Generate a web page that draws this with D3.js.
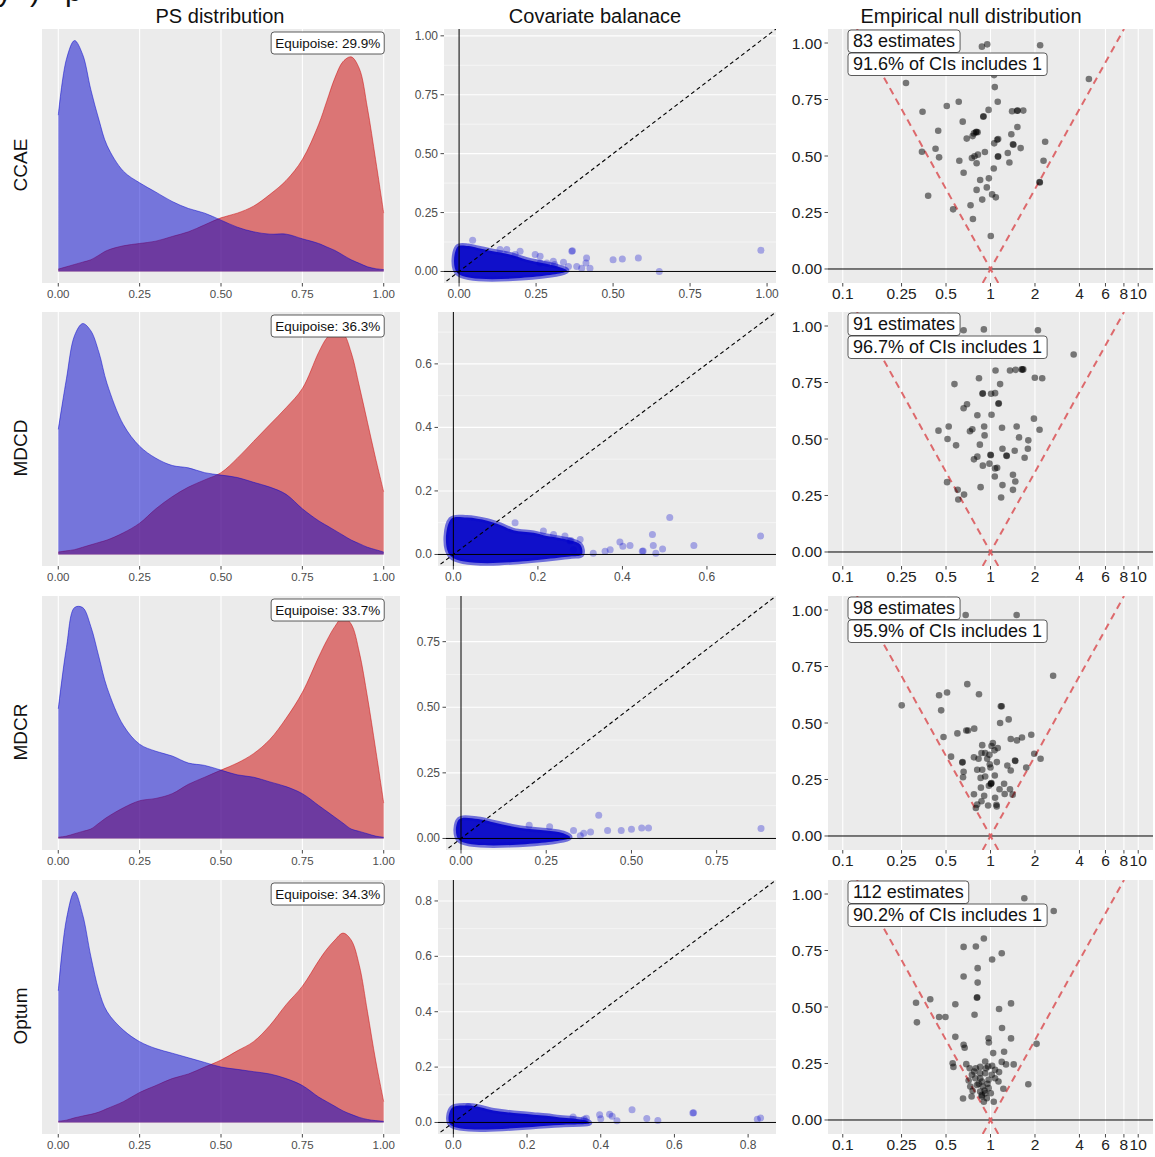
<!DOCTYPE html>
<html><head><meta charset="utf-8">
<script src="https://cdn.jsdelivr.net/npm/d3@7"></script>
<style>body{margin:0;background:#fff;} text{font-family:"Liberation Sans",Arial,sans-serif;}</style>
</head><body><svg id="chart" width="1155" height="1157"></svg>
<script>
// ---------------- DATA ----------------
const rowNames = ["CCAE","MDCD","MDCR","Optum"];
const columnTitles = ["PS distribution","Covariate balanace","Empirical null distribution"];
const equipoisePct = [29.9,36.3,33.7,34.3];
const estimateCounts = [83,91,98,112];
const ciCoveragePct = [91.6,96.7,95.9,90.2];

// preference score grid and (scaled) densities
const psGrid = [0,0.025,0.05,0.075,0.1,0.125,0.15,0.2,0.25,0.3,0.35,0.4,0.45,0.5,0.55,0.6,0.65,0.7,0.75,0.8,0.825,0.85,0.875,0.9,0.925,0.95,0.975,1.0];
const psBlueCCAE = [0.67,0.91,0.99,0.93,0.78,0.65,0.54,0.43,0.38,0.34,0.30,0.27,0.25,0.22,0.19,0.17,0.16,0.16,0.14,0.12,0.105,0.09,0.07,0.05,0.035,0.02,0.012,0.008];
const psRedCCAE  = [0.01,0.02,0.03,0.04,0.05,0.07,0.09,0.11,0.12,0.13,0.15,0.17,0.20,0.23,0.25,0.28,0.33,0.39,0.48,0.63,0.73,0.83,0.90,0.92,0.87,0.70,0.48,0.25];
const psBlueMDCD = [0.52,0.73,0.91,0.96,0.93,0.84,0.71,0.54,0.45,0.40,0.37,0.36,0.34,0.33,0.32,0.30,0.28,0.25,0.19,0.14,0.12,0.10,0.08,0.06,0.045,0.03,0.02,0.01];
const psRedMDCD  = [0.01,0.015,0.02,0.03,0.04,0.05,0.06,0.09,0.13,0.19,0.24,0.28,0.31,0.34,0.40,0.47,0.54,0.61,0.69,0.84,0.90,0.93,0.92,0.84,0.70,0.55,0.40,0.26];
const psBlueMDCR = [0.55,0.81,0.98,0.98,0.90,0.77,0.64,0.48,0.40,0.37,0.35,0.32,0.31,0.29,0.27,0.26,0.24,0.22,0.19,0.14,0.115,0.09,0.065,0.04,0.03,0.02,0.01,0.005];
const psRedMDCR  = [0.005,0.01,0.02,0.03,0.04,0.065,0.09,0.13,0.16,0.17,0.19,0.23,0.26,0.29,0.32,0.36,0.42,0.51,0.62,0.77,0.84,0.90,0.94,0.91,0.79,0.60,0.38,0.15];
const psBlueOptum = [0.57,0.88,1.0,0.90,0.72,0.57,0.48,0.40,0.35,0.32,0.30,0.28,0.26,0.24,0.23,0.22,0.21,0.19,0.16,0.11,0.09,0.07,0.05,0.035,0.022,0.013,0.008,0.005];
const psRedOptum  = [0.005,0.01,0.02,0.028,0.035,0.045,0.06,0.09,0.13,0.16,0.19,0.21,0.24,0.27,0.31,0.35,0.42,0.51,0.59,0.70,0.75,0.79,0.82,0.79,0.68,0.48,0.27,0.09];
const psTicks = [0,0.25,0.5,0.75,1];

// covariate balance: dense core outline [before, after] and individual visible points
const balDenseCCAE = [[-0.005,-0.008],[-0.005,0.105],[0.03,0.108],[0.06,0.1],[0.11,0.086],[0.165,0.072],[0.22,0.05],[0.27,0.036],[0.32,0.021],[0.35,0.004],[0.33,-0.008]];
const balDenseMDCD = [[-0.006,-0.006],[-0.006,0.111],[0.032,0.116],[0.08,0.106],[0.111,0.093],[0.142,0.076],[0.19,0.068],[0.221,0.058],[0.268,0.047],[0.3,0.031],[0.304,0.0],[0.28,-0.006]];
const balDenseMDCR = [[-0.006,-0.006],[-0.006,0.072],[0.05,0.074],[0.1,0.06],[0.15,0.046],[0.2,0.036],[0.25,0.03],[0.3,0.02],[0.32,0.005],[0.3,-0.006]];
const balDenseOptum = [[-0.008,-0.008],[-0.004,0.052],[0.037,0.061],[0.073,0.055],[0.109,0.043],[0.145,0.037],[0.181,0.032],[0.217,0.028],[0.253,0.024],[0.289,0.018],[0.325,0.014],[0.361,0.006],[0.37,-0.002],[0.3,-0.008]];
const balPtsCCAE = [[0.044,0.132],[0.366,0.086],[0.368,0.088],[0.414,0.057],[0.412,0.036],[0.31,0.03],[0.5,0.05],[0.53,0.053],[0.582,0.057],[0.65,0.0],[0.98,0.09],[0.263,0.036],[0.285,0.036],[0.306,0.043],[0.339,0.039],[0.355,0.021],[0.382,0.021],[0.398,0.014],[0.425,0.014],[0.133,0.093],[0.155,0.093],[0.198,0.086],[0.263,0.064],[0.247,0.072],[0.182,0.072]];
const balPtsMDCD = [[0.146,0.1],[0.213,0.074],[0.237,0.063],[0.264,0.058],[0.276,0.042],[0.278,0.044],[0.331,0.004],[0.359,0.01],[0.371,0.015],[0.394,0.039],[0.401,0.026],[0.418,0.028],[0.447,0.01],[0.449,0.011],[0.471,0.063],[0.473,0.028],[0.479,0.004],[0.495,0.017],[0.512,0.116],[0.569,0.028],[0.727,0.058],[0.3,0.047],[0.284,0.015]];
const balPtsMDCR = [[0.33,0.03],[0.36,0.02],[0.38,0.025],[0.404,0.088],[0.43,0.03],[0.47,0.03],[0.5,0.035],[0.53,0.04],[0.55,0.04],[0.88,0.038],[0.26,0.045],[0.2,0.05],[0.35,0.01]];
const balPtsOptum = [[0.041,0.058],[0.397,0.028],[0.40,0.013],[0.424,0.03],[0.431,0.022],[0.444,0.006],[0.485,0.046],[0.525,0.014],[0.555,0.007],[0.65,0.034],[0.652,0.035],[0.825,0.012],[0.834,0.016],[0.361,0.015],[0.355,0.012],[0.325,0.02]];
const balanceTicks = [[0,0.25,0.5,0.75,1],[0,0.2,0.4,0.6],[0,0.25,0.5,0.75],[0,0.2,0.4,0.6,0.8]];

// empirical null: [log10 RR, SE]
const nullCCAE = [[-0.058,0.984],[-0.022,0.994],[0.336,0.99],[-0.572,0.823],[0.666,0.841],[0.024,0.858],[0.029,0.805],[-0.215,0.740],[-0.296,0.721],[0.049,0.740],[-0.46,0.696],[-0.013,0.704],[-0.049,0.674],[-0.047,0.676],[0.146,0.698],[0.184,0.701],[0.222,0.701],[0.18,0.70],[-0.188,0.652],[-0.354,0.612],[0.182,0.628],[-0.099,0.605],[-0.112,0.600],[-0.087,0.605],[-0.095,0.607],[-0.161,0.577],[-0.121,0.588],[0.141,0.596],[0.052,0.575],[0.045,0.572],[0.025,0.556],[0.37,0.563],[0.152,0.552],[0.155,0.55],[0.204,0.535],[-0.464,0.519],[-0.372,0.532],[-0.348,0.494],[-0.038,0.518],[-0.085,0.506],[-0.108,0.499],[-0.126,0.491],[0.052,0.499],[0.05,0.497],[0.117,0.513],[-0.211,0.479],[-0.094,0.468],[0.128,0.471],[0.359,0.479],[-0.182,0.426],[0.022,0.445],[-0.07,0.394],[-0.011,0.401],[0.332,0.385],[0.334,0.383],[-0.025,0.361],[-0.094,0.35],[0.011,0.33],[0.036,0.317],[-0.422,0.324],[-0.056,0.307],[-0.135,0.282],[-0.253,0.264],[-0.119,0.221],[0.002,0.146]];
const nullMDCD = [[-0.182,0.981],[-0.045,0.985],[0.321,0.981],[0.563,0.874],[0.034,0.803],[0.132,0.803],[0.17,0.806],[0.211,0.808],[0.222,0.808],[0.216,0.807],[-0.078,0.769],[0.300,0.771],[0.350,0.769],[-0.244,0.743],[0.065,0.743],[-0.054,0.700],[-0.052,0.702],[0.004,0.700],[0.031,0.703],[0.056,0.658],[0.054,0.656],[-0.159,0.654],[-0.182,0.636],[-0.089,0.605],[0.007,0.607],[0.294,0.590],[-0.352,0.537],[-0.283,0.555],[-0.123,0.543],[-0.139,0.534],[-0.043,0.555],[0.078,0.550],[0.177,0.555],[0.332,0.541],[-0.04,0.516],[-0.291,0.5],[0.193,0.507],[0.256,0.494],[-0.233,0.472],[-0.072,0.475],[0.253,0.457],[0.081,0.457],[0.164,0.448],[0.002,0.428],[0.0,0.43],[0.110,0.425],[0.108,0.427],[-0.089,0.422],[-0.112,0.410],[0.231,0.417],[-0.007,0.391],[-0.052,0.382],[0.031,0.370],[0.045,0.373],[0.152,0.342],[0.029,0.334],[0.168,0.312],[-0.294,0.309],[-0.067,0.287],[0.081,0.296],[0.152,0.275],[-0.222,0.275],[-0.179,0.254],[-0.218,0.232],[0.072,0.241]];
const nullMDCR = [[-0.168,0.978],[0.177,0.978],[0.424,0.709],[-0.157,0.672],[-0.348,0.623],[-0.294,0.635],[-0.078,0.627],[-0.601,0.578],[-0.334,0.556],[0.07,0.574],[0.076,0.574],[0.123,0.516],[0.065,0.5],[-0.318,0.438],[-0.224,0.454],[-0.164,0.467],[-0.152,0.467],[-0.11,0.475],[0.137,0.429],[0.179,0.423],[0.213,0.436],[0.276,0.448],[-0.056,0.402],[0.016,0.411],[0.007,0.398],[0.049,0.389],[0.027,0.379],[-0.061,0.367],[-0.036,0.367],[-0.007,0.359],[0.296,0.364],[0.339,0.342],[-0.267,0.351],[-0.112,0.348],[-0.081,0.342],[-0.022,0.342],[0.043,0.327],[-0.191,0.325],[-0.189,0.327],[0.166,0.334],[0.168,0.332],[0.114,0.312],[-0.09,0.293],[-0.056,0.293],[0.0,0.303],[0.242,0.303],[-0.182,0.284],[-0.186,0.26],[0.137,0.29],[-0.067,0.257],[-0.036,0.263],[0.029,0.268],[0.004,0.232],[0.006,0.234],[0.002,0.23],[0.092,0.231],[-0.065,0.214],[0.061,0.207],[0.132,0.207],[-0.112,0.185],[-0.043,0.178],[0.031,0.169],[0.096,0.186],[0.150,0.183],[-0.061,0.154],[-0.09,0.139],[-0.099,0.124],[-0.016,0.135],[0.04,0.138],[0.042,0.131],[-0.011,0.222],[-0.005,0.317]];
const nullOptum = [[0.229,0.981],[0.428,0.925],[-0.045,0.803],[-0.182,0.766],[-0.099,0.768],[0.076,0.738],[0.011,0.71],[-0.087,0.672],[-0.182,0.635],[-0.087,0.608],[-0.092,0.541],[-0.09,0.543],[-0.504,0.519],[-0.408,0.534],[-0.238,0.512],[0.139,0.516],[0.058,0.491],[-0.348,0.456],[-0.305,0.456],[-0.498,0.432],[-0.108,0.466],[0.078,0.407],[-0.238,0.368],[-0.013,0.362],[-0.011,0.343],[0.139,0.361],[0.312,0.337],[-0.182,0.333],[-0.175,0.32],[0.018,0.296],[0.092,0.302],[-0.256,0.251],[-0.251,0.235],[0.076,0.257],[0.105,0.246],[0.157,0.246],[-0.164,0.247],[-0.141,0.229],[-0.099,0.229],[-0.07,0.235],[-0.036,0.259],[-0.016,0.237],[0.011,0.24],[0.031,0.222],[0.058,0.212],[-0.126,0.2],[-0.07,0.207],[-0.036,0.207],[0.009,0.2],[-0.103,0.185],[-0.148,0.175],[-0.058,0.17],[-0.013,0.178],[0.031,0.185],[-0.137,0.148],[-0.092,0.155],[-0.052,0.148],[-0.013,0.141],[-0.121,0.129],[-0.07,0.126],[-0.036,0.118],[0.002,0.118],[-0.058,0.104],[-0.025,0.096],[-0.045,0.081],[0.022,0.081],[0.087,0.138],[0.256,0.158],[-0.186,0.095],[-0.128,0.104],[0.054,0.17],[-0.11,0.214],[-0.031,0.229],[-0.07,0.185],[-0.06,0.11],[-0.04,0.13],[-0.08,0.16],[-0.02,0.16]];
const nullXTicks = [0.1,0.25,0.5,1,2,4,6,8,10];
const nullXLabels = ["0.1","0.25","0.5","1","2","4","6","8","10"];
const nullYTicks = [0,0.25,0.5,0.75,1];

// ---------------- LAYOUT ----------------
const psBlue = [psBlueCCAE, psBlueMDCD, psBlueMDCR, psBlueOptum];
const psRed = [psRedCCAE, psRedMDCD, psRedMDCR, psRedOptum];
const balDense = [balDenseCCAE, balDenseMDCD, balDenseMDCR, balDenseOptum];
const balPts = [balPtsCCAE, balPtsMDCD, balPtsMDCR, balPtsOptum];
const nullPts = [nullCCAE, nullMDCD, nullMDCR, nullOptum];

const ROW_TOP = [29, 312, 596, 880];
const PH = 254;
const C1 = [42, 400];
const C2R = 776, C2L = [444, 438, 446, 438];
const C3 = [828, 1153];
const BG = "#EBEBEB";
const svg = d3.select("#chart");
const defs = svg.append("defs");
let clipId = 0;
function clip(x0, y0, w, h) {
  const id = "c" + (clipId++);
  defs.append("clipPath").attr("id", id).append("rect").attr("x", x0).attr("y", y0).attr("width", w).attr("height", h);
  return "url(#" + id + ")";
}

// heading fragment cut off at the very top of the figure (as in the reference)
[["y",-3],[")",30],["p",65]].forEach(([t,x]) =>
  svg.append("text").attr("x", x).attr("y", 1).attr("font-size", 30).attr("fill", "#111").text(t));

// column titles
const titleX = [220, 595, 971];
columnTitles.forEach((t, i) => svg.append("text").attr("x", titleX[i]).attr("y", 22.5)
  .attr("text-anchor", "middle").attr("font-size", 20).attr("fill", "#111").text(t));

rowNames.forEach((name, r) => {
  const top = ROW_TOP[r], bot = top + PH;
  svg.append("text").attr("transform", `translate(27,${top + 136}) rotate(-90)`)
    .attr("text-anchor", "middle").attr("font-size", 19).attr("fill", "#111").text(name);

  // ===== Column 1: PS distribution =====
  {
    const g = svg.append("g");
    const x = d3.scaleLinear([-0.05, 1.05], C1);
    const M = d3.max(psBlue[r].concat(psRed[r]));
    const y = d3.scaleLinear([-0.05 * M, 1.05 * M], [bot, top]);
    g.append("rect").attr("x", C1[0]).attr("y", top).attr("width", C1[1] - C1[0]).attr("height", PH).attr("fill", BG);
    psTicks.forEach(t => g.append("line").attr("x1", x(t)).attr("x2", x(t)).attr("y1", top).attr("y2", bot).attr("stroke", "#fff").attr("stroke-width", 1.1));
    const cp = clip(C1[0], top, C1[1] - C1[0], PH);
    const area = d3.area().x((d, i) => x(psGrid[i])).y0(y(0)).y1(d => y(Math.max(0, d))).curve(d3.curveCatmullRom);
    const line = d3.line().x((d, i) => x(psGrid[i])).y(d => y(Math.max(0, d))).curve(d3.curveCatmullRom);
    const pg = g.append("g").attr("clip-path", cp);
    pg.append("path").datum(psRed[r]).attr("d", area).attr("fill", "rgb(204,0,0)").attr("fill-opacity", 0.5);
    pg.append("path").datum(psRed[r]).attr("d", line).attr("fill", "none").attr("stroke", "rgb(204,0,0)").attr("stroke-opacity", 0.6).attr("stroke-width", 0.8);
    pg.append("path").datum(psBlue[r]).attr("d", area).attr("fill", "rgb(0,0,204)").attr("fill-opacity", 0.5);
    pg.append("path").datum(psBlue[r]).attr("d", line).attr("fill", "none").attr("stroke", "rgb(0,0,204)").attr("stroke-opacity", 0.6).attr("stroke-width", 0.8);
    psTicks.forEach(t => {
      g.append("line").attr("x1", x(t)).attr("x2", x(t)).attr("y1", bot).attr("y2", bot + 3.5).attr("stroke", "#333").attr("stroke-width", 0.9);
      g.append("text").attr("x", x(t)).attr("y", bot + 15).attr("text-anchor", "middle").attr("font-size", 11.5).attr("fill", "#4D4D4D").text(d3.format(".2f")(t));
    });
    const lt = g.append("text").attr("x", x(1) - 3.5).attr("y", top + 19).attr("text-anchor", "end").attr("font-size", 13.5).attr("fill", "#111").text("Equipoise: " + equipoisePct[r].toFixed(1) + "%");
    const bb = lt.node().getBBox();
    g.insert("rect", "text:last-child").attr("x", bb.x - 4).attr("y", top + 3).attr("width", bb.width + 8).attr("height", 22).attr("rx", 3).attr("fill", "#fff").attr("stroke", "#333").attr("stroke-width", 0.8);
    lt.raise();
  }

  // ===== Column 2: Covariate balance =====
  {
    const g = svg.append("g");
    const L = C2L[r];
    const allV = balDense[r].flat().concat(balPts[r].flat());
    const m = d3.max(allV);
    const x = d3.scaleLinear([-0.05 * m, 1.05 * m], [L, C2R]);
    const y = d3.scaleLinear([-0.05 * m, 1.05 * m], [bot, top]);
    g.append("rect").attr("x", L).attr("y", top).attr("width", C2R - L).attr("height", PH).attr("fill", BG);
    const ticks = balanceTicks[r];
    const step = ticks[1] - ticks[0];
    const fmt = step === 0.25 ? d3.format(".2f") : d3.format(".1f");
    const minors = ticks.map(t => t + step / 2).concat([-step / 2]).filter(t => y(t) > top && y(t) < bot);
    minors.forEach(t => g.append("line").attr("x1", L).attr("x2", C2R).attr("y1", y(t)).attr("y2", y(t)).attr("stroke", "#fff").attr("stroke-width", 0.5));
    ticks.forEach(t => g.append("line").attr("x1", L).attr("x2", C2R).attr("y1", y(t)).attr("y2", y(t)).attr("stroke", "#fff").attr("stroke-width", 1.1));
    const cp = clip(L, top, C2R - L, PH);
    const pg = g.append("g").attr("clip-path", cp);
    pg.append("path").datum(balDense[r])
      .attr("d", d3.line().x(d => x(d[0])).y(d => y(d[1])).curve(d3.curveCatmullRomClosed))
      .attr("fill", "rgb(6,6,200)").attr("fill-opacity", 0.96)
      .attr("stroke", "rgb(10,10,204)").attr("stroke-opacity", 0.55).attr("stroke-width", 5).attr("stroke-linejoin", "round");
    pg.selectAll("circle.b").data(balPts[r]).join("circle").attr("cx", d => x(d[0])).attr("cy", d => y(d[1])).attr("r", 3.5)
      .attr("fill", "rgb(0,0,204)").attr("fill-opacity", 0.3);
    pg.append("line").attr("x1", x(0)).attr("x2", x(0)).attr("y1", top).attr("y2", bot).attr("stroke", "#000").attr("stroke-width", 1);
    pg.append("line").attr("x1", L).attr("x2", C2R).attr("y1", y(0)).attr("y2", y(0)).attr("stroke", "#000").attr("stroke-width", 1);
    pg.append("line").attr("x1", x(-0.06 * m)).attr("y1", y(-0.06 * m)).attr("x2", x(1.06 * m)).attr("y2", y(1.06 * m))
      .attr("stroke", "#000").attr("stroke-width", 1.1).attr("stroke-dasharray", "4,3");
    ticks.forEach(t => {
      g.append("line").attr("x1", L - 3.5).attr("x2", L).attr("y1", y(t)).attr("y2", y(t)).attr("stroke", "#333").attr("stroke-width", 0.9);
      g.append("text").attr("x", L - 6).attr("y", y(t) + 4).attr("text-anchor", "end").attr("font-size", 12).attr("fill", "#4D4D4D").text(fmt(t));
      g.append("line").attr("x1", x(t)).attr("x2", x(t)).attr("y1", bot).attr("y2", bot + 3.5).attr("stroke", "#333").attr("stroke-width", 0.9);
      g.append("text").attr("x", x(t)).attr("y", bot + 15).attr("text-anchor", "middle").attr("font-size", 12).attr("fill", "#4D4D4D").text(fmt(t));
    });
  }

  // ===== Column 3: Empirical null distribution =====
  {
    const g = svg.append("g");
    const x = d3.scaleLog([Math.pow(10, -1.1), Math.pow(10, 1.1)], C3);
    const y = d3.scaleLinear([-0.062, 1.062], [bot, top]);
    g.append("rect").attr("x", C3[0]).attr("y", top).attr("width", C3[1] - C3[0]).attr("height", PH).attr("fill", BG);
    nullXTicks.forEach(t => g.append("line").attr("x1", x(t)).attr("x2", x(t)).attr("y1", top).attr("y2", bot).attr("stroke", "#fff").attr("stroke-width", 1.1));
    g.append("line").attr("x1", C3[0]).attr("x2", C3[1]).attr("y1", y(0)).attr("y2", y(0)).attr("stroke", "#000").attr("stroke-width", 1);
    const cp = clip(C3[0], top, C3[1] - C3[0], PH);
    const pg = g.append("g").attr("clip-path", cp);
    const seRange = [-0.062, 1.062];
    [-1, 1].forEach(s => {
      pg.append("line").attr("x1", x(Math.exp(s * 1.96 * seRange[0]))).attr("y1", y(seRange[0]))
        .attr("x2", x(Math.exp(s * 1.96 * seRange[1]))).attr("y2", y(seRange[1]))
        .attr("stroke", "#DB5B5E").attr("stroke-width", 2).attr("stroke-dasharray", "7,5").attr("stroke-opacity", 0.9);
    });
    pg.selectAll("circle.n").data(nullPts[r]).join("circle")
      .attr("cx", d => x(Math.pow(10, d[0]))).attr("cy", d => y(d[1])).attr("r", 3.3)
      .attr("fill", "#000").attr("fill-opacity", 0.5);
    const labels = [estimateCounts[r] + " estimates", ciCoveragePct[r].toFixed(1) + "% of CIs includes 1"];
    labels.forEach((t, k) => {
      const by = top + 1 + k * 23;
      const tx = g.append("text").attr("x", 853).attr("y", by + 17).attr("font-size", 18).attr("fill", "#111").text(t);
      const bb = tx.node().getBBox();
      g.insert("rect", "text:last-child").attr("x", 848).attr("y", by).attr("width", bb.width + 10).attr("height", 22.5).attr("rx", 3)
        .attr("fill", "#fff").attr("stroke", "#333").attr("stroke-width", 0.8);
      tx.raise();
    });
    nullYTicks.forEach(t => {
      g.append("line").attr("x1", C3[0] - 3.5).attr("x2", C3[0]).attr("y1", y(t)).attr("y2", y(t)).attr("stroke", "#333").attr("stroke-width", 0.9);
      g.append("text").attr("x", C3[0] - 6).attr("y", y(t) + 5.5).attr("text-anchor", "end").attr("font-size", 15.5).attr("fill", "#222").text(d3.format(".2f")(t));
    });
    nullXTicks.forEach((t, i) => {
      g.append("line").attr("x1", x(t)).attr("x2", x(t)).attr("y1", bot).attr("y2", bot + 3.5).attr("stroke", "#333").attr("stroke-width", 0.9);
      g.append("text").attr("x", x(t)).attr("y", bot + 16).attr("text-anchor", "middle").attr("font-size", 15.5).attr("fill", "#222").text(nullXLabels[i]);
    });
  }
});
</script>
</body></html>
